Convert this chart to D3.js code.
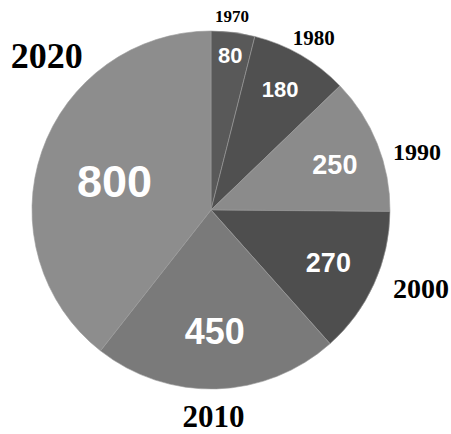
<!DOCTYPE html>
<html>
<head>
<meta charset="utf-8">
<script src="https://cdn.jsdelivr.net/npm/d3@7/dist/d3.min.js"></script>
<style>
  html, body { margin: 0; padding: 0; background: #fff; }
  svg { display: block; }
</style>
</head>
<body>
<svg id="chart" width="451" height="434"></svg>
<script>
const years = ["1970", "1980", "1990", "2000", "2010", "2020"];
const values = [80, 180, 250, 270, 450, 800];
const colors = ["#595959", "#505050", "#8b8b8b", "#4e4e4e", "#7a7a7a", "#8d8d8d"];

const svg = d3.select("#chart");
const cx = 211, cy = 210, r = 179;

const data = years.map((y, i) => ({ year: y, value: values[i], color: colors[i] }));
const pie = d3.pie().sort(null).value(d => d.value);
const arcs = pie(data);
const arc = d3.arc().innerRadius(0).outerRadius(r);

const g = svg.append("g").attr("transform", `translate(${cx},${cy})`);
g.selectAll("path").data(arcs).enter().append("path")
  .attr("d", arc)
  .attr("fill", d => d.data.color)
  .attr("stroke", "#9a9a9a")
  .attr("stroke-width", 0.6);

// value labels: radius fraction along the mid-angle, small nudges, font size
const valR = [0.87, 0.77, 0.745, 0.72, 0.68, 0.57];
const valNudgeY = [0, -1, 4, 0, 0, 5];
const valSize = [22, 22, 27, 27, 36, 45];
g.selectAll("text.val").data(arcs).enter().append("text")
  .attr("class", "val")
  .attr("transform", (d, i) => {
    const a = (d.startAngle + d.endAngle) / 2;
    const rr = r * valR[i];
    return `translate(${rr * Math.sin(a)},${-rr * Math.cos(a) + valNudgeY[i]})`;
  })
  .attr("text-anchor", "middle")
  .attr("dominant-baseline", "central")
  .attr("fill", "#fff")
  .attr("font-family", "'Liberation Sans', Arial, sans-serif")
  .attr("font-weight", "bold")
  .attr("font-size", (d, i) => valSize[i])
  .text(d => d.data.value);

// year labels: radius fraction along mid-angle, anchor, nudges
const yrR = [1.09, 1.12, 1.095, 1.117, 1.173, 1.0];
const yrDx = [-3, 2, 0, 0, -4, 41];
const yrDy = [0, 1, 15, -4, -3, -96];
const yrSize = [17, 21, 24, 28, 31, 36];
const yrAnchor = ["middle", "middle", "start", "start", "middle", "end"];
g.selectAll("text.yr").data(arcs).enter().append("text")
  .attr("class", "yr")
  .attr("transform", (d, i) => {
    const a = (d.startAngle + d.endAngle) / 2;
    const rr = r * yrR[i];
    return `translate(${rr * Math.sin(a) + yrDx[i]},${-rr * Math.cos(a) + yrDy[i]})`;
  })
  .attr("text-anchor", (d, i) => yrAnchor[i])
  .attr("dominant-baseline", "central")
  .attr("fill", "#000")
  .attr("font-family", "'Liberation Serif', 'Times New Roman', serif")
  .attr("font-weight", "bold")
  .attr("font-size", (d, i) => yrSize[i])
  .text(d => d.data.year);
</script>
</body>
</html>
